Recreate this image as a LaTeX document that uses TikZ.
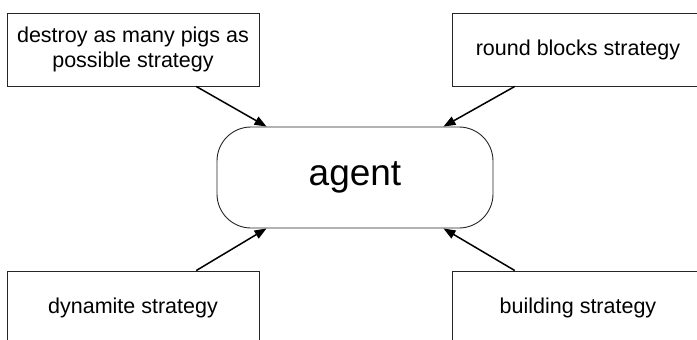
\documentclass[tikz,border=0pt]{standalone}
\usepackage{fontspec}
\setmainfont{Liberation Sans}
\usetikzlibrary{arrows.meta,calc}
\tikzset{
  stratbox/.style={draw=black!85, line width=0.9pt, minimum width=252pt, minimum height=73pt, inner sep=0pt, align=center, font=\fontsize{21.5}{25.5}\selectfont},
  agentbox/.style={draw=black!85, line width=0.9pt, rounded corners=34pt, minimum width=276pt, minimum height=101pt, inner sep=0pt, font=\fontsize{37}{44}\selectfont},
  feed/.style={line width=1.5pt, -{Triangle[length=12pt,width=9pt]}}
}
\begin{document}
\begin{tikzpicture}[x=1pt,y=-1pt]
  \useasboundingbox (0,0) rectangle (697,340);
  \clip (0,0) rectangle (697,340);
  \fill[white] (0,0) rectangle (697,340);
  \node[stratbox] (tl) at (133,49.5) {destroy as many pigs as\\possible strategy};
  \node[stratbox] (tr) at (578,49.5) {round blocks strategy};
  \node[stratbox] (bl) at (133,307.5) {dynamite strategy};
  \node[stratbox] (br) at (578,307.5) {building strategy};
  \node[agentbox] (agent) at (355,177.5) {agent};
  \draw[feed] ($(tl.south west)!0.75!(tl.south east)$) -- ($(agent.north west)+(50,0)$);
  \draw[feed] ($(tr.south west)!0.25!(tr.south east)$) -- ($(agent.north east)+(-50,0)$);
  \draw[feed] ($(bl.north west)!0.75!(bl.north east)$) -- ($(agent.south west)+(50,0)$);
  \draw[feed] ($(br.north west)!0.25!(br.north east)$) -- ($(agent.south east)+(-50,0)$);
\end{tikzpicture}
\end{document}
